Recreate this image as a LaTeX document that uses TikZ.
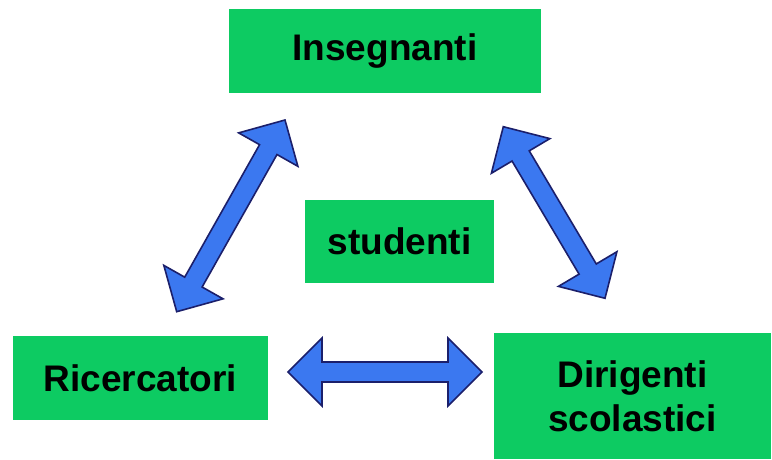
\documentclass[tikz,border=0pt]{standalone}
\usepackage{fontspec}
\setmainfont{Liberation Sans}
\usetikzlibrary{calc}
\definecolor{boxgreen}{HTML}{0DCB62}
\definecolor{arrowblue}{HTML}{3B78F0}
\definecolor{arrowedge}{HTML}{1B1F6B}
\tikzset{
  greenbox/.style={fill=boxgreen, draw=none, inner sep=0pt, align=center,
    font=\fontsize{37}{44}\selectfont\bfseries, text=black},
  arrowstyle/.style={fill=arrowblue, draw=arrowedge, line width=1.6pt, line join=miter}
}
\newcommand{\dblarr}[2]{%
  \coordinate (h1) at ($(#1)!34pt!(#2)$);
  \coordinate (h2) at ($(#2)!34pt!(#1)$);
  \draw[arrowstyle] (#1)
    -- ($(h1)!34pt!90:(#2)$) -- ($(h1)!10pt!90:(#2)$)
    -- ($(h2)!10pt!-90:(#1)$) -- ($(h2)!34pt!-90:(#1)$)
    -- (#2)
    -- ($(h2)!34pt!90:(#1)$) -- ($(h2)!10pt!90:(#1)$)
    -- ($(h1)!10pt!-90:(#2)$) -- ($(h1)!34pt!-90:(#2)$)
    -- cycle;
}
\begin{document}
\begin{tikzpicture}[x=1pt,y=-1pt]
  \useasboundingbox (0,0) rectangle (772,460);
  \node[greenbox, minimum width=312pt, minimum height=84pt] (ins) at (385,51) {Insegnanti};
  \node[greenbox, minimum width=189pt, minimum height=83pt] (stu) at (399.5,241.5) {studenti};
  \node[greenbox, minimum width=255pt, minimum height=84pt] (ric) at (140.5,378) {Ricercatori};
  \node[greenbox, minimum width=277pt, minimum height=126pt] (dir) at (632.5,396) {Dirigenti\\scolastici};
  \coordinate (lt) at (285,120);
  \coordinate (lb) at (176.7,311.7);
  \coordinate (rt) at (503.3,126.7);
  \coordinate (rb) at (605,298.3);
  \coordinate (hl) at (288,372);
  \coordinate (hr) at (482,372);
  \dblarr{lb}{lt}
  \dblarr{rt}{rb}
  \dblarr{hl}{hr}
\end{tikzpicture}
\end{document}
